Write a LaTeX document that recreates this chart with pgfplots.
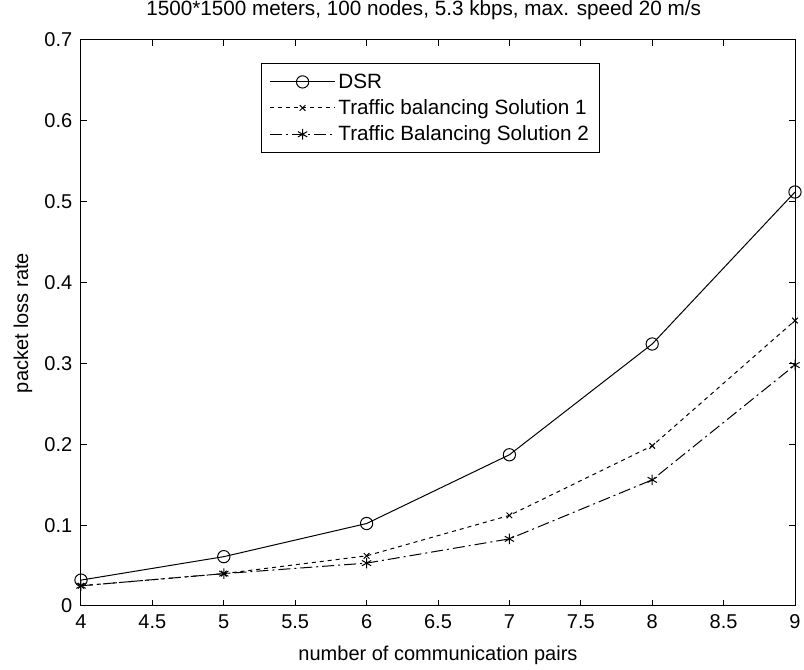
\documentclass[border=0pt]{standalone}
\usepackage{fontspec}
\setmainfont{Liberation Sans}
\usepackage{pgfplots}
\pgfplotsset{compat=1.18}
\begin{document}
\begin{tikzpicture}
\begin{axis}[
  scale only axis,
  width=535.5pt, height=424.5pt,
  xmin=4, xmax=9, ymin=0, ymax=0.7,
  xtick={4,4.5,...,9},
  ytick={0,0.1,...,0.7},
  tick align=inside,
  tick pos=both,
  major tick length=4.5pt,
  /pgf/number format/assume math mode=true,
  /pgf/number format/fixed,
  tick label style={font=\fontsize{15}{18}\selectfont},
  xticklabel style={yshift=-3pt},
  yticklabel style={xshift=-3pt},
  label style={font=\fontsize{15}{18}\selectfont},
  title style={font=\fontsize{15.5}{18}\selectfont, at={(axis description cs:0.48,1.0389)}, anchor=center},
  title={1500*1500 meters, 100 nodes, 5.3 kbps, max. speed 20 m/s},
  xlabel={number of communication pairs},
  ylabel={packet loss rate},
  xlabel style={at={(axis description cs:0.5,-0.0866)}, anchor=center},
  ylabel style={at={(axis description cs:-0.0812,0.5)}, anchor=center},
  axis line style={line width=0.75pt},
  every tick/.style={line width=0.75pt},
  legend style={at={(0.252,0.959)}, anchor=north west, font=\fontsize{15.5}{18}\selectfont, draw=black, line width=0.75pt, inner xsep=6pt, inner ysep=5.5pt, row sep=3pt},
  legend cell align=left,
  legend image code/.code={\draw[#1] (0pt,0pt) -- (49pt,0pt); \draw[#1, solid] plot coordinates {(24.5pt,0pt)};},
]
\addplot[black, line width=0.75pt, mark=o, mark size=4.6pt] coordinates {
(4,0.032) (5,0.061) (6,0.102) (7,0.187) (8,0.324) (9,0.512)};
\addlegendentry{DSR}
\addplot[black, line width=0.75pt, dash pattern=on 3pt off 3pt, mark=x, mark size=3pt, mark options={solid}] coordinates {
(4,0.025) (5,0.040) (6,0.062) (7,0.112) (8,0.198) (9,0.353)};
\addlegendentry{Traffic balancing Solution 1}
\addplot[black, line width=0.75pt, dash pattern=on 9pt off 3pt on 1.5pt off 3pt, mark=asterisk, mark size=4pt, mark options={solid}] coordinates {
(4,0.025) (5,0.040) (6,0.053) (7,0.083) (8,0.156) (9,0.298)};
\addlegendentry{Traffic Balancing Solution 2}
\end{axis}
\pgfresetboundingbox
\path ([xshift=-60.75pt,yshift=-48pt]current axis.south west) rectangle ([xshift=6.75pt,yshift=30pt]current axis.north east);
\end{tikzpicture}
\end{document}
